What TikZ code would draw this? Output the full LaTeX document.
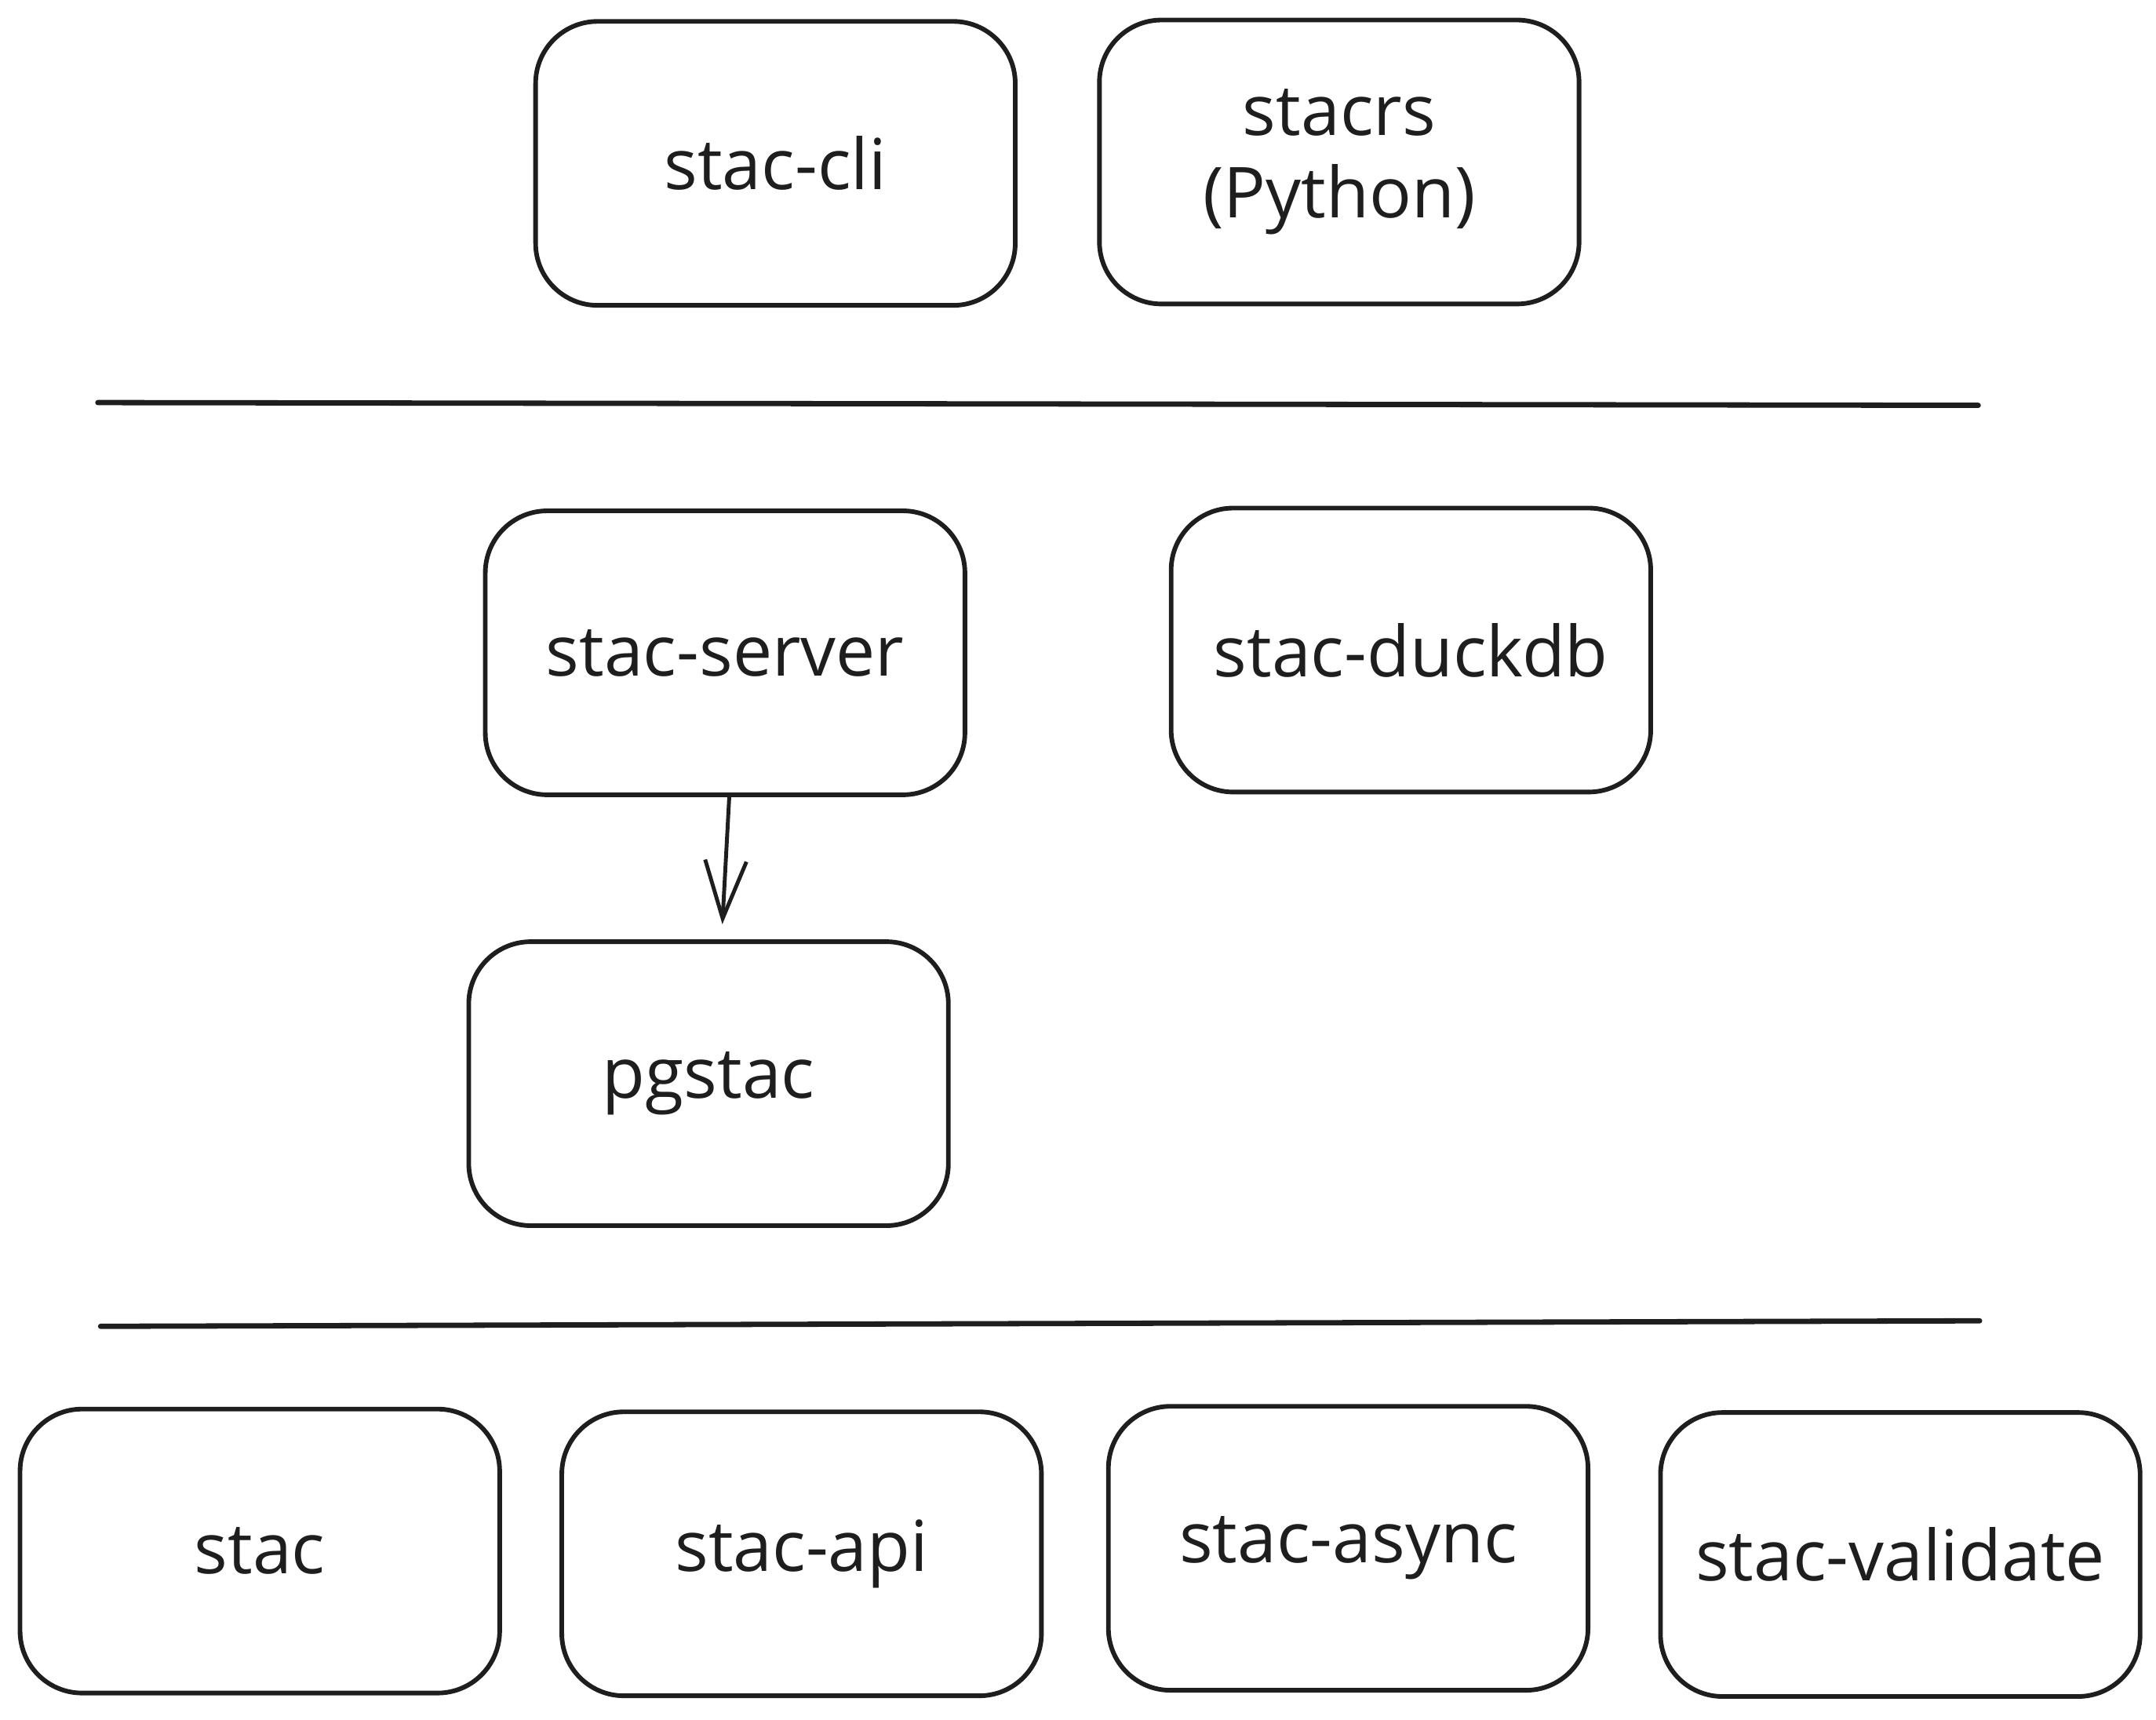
\documentclass[tikz,border=0pt]{standalone}
\usepackage{fontspec}
\setmainfont{Open Sans}
\usetikzlibrary{arrows.meta}
\definecolor{ink}{HTML}{1E1E1E}
\begin{document}
\begin{tikzpicture}[x=0.02cm,y=-0.02cm,
  box/.style={draw=ink,line width=1.9pt,rounded corners=0.9cm,minimum width=6.96cm,minimum height=4.12cm,inner sep=0pt,align=center,text=ink,font=\fontsize{29}{34}\selectfont},
  sep/.style={draw=ink,line width=2.2pt,line cap=round},
  arr/.style={draw=ink,line width=1.6pt,-{Straight Barb[length=0.84cm,width=0.6cm,line width=1.6pt]}}]
\useasboundingbox (0,0) rectangle (1564,1247);
\node[box] (cli) at (562.5,118.5) {stac-cli};
\node[box] (stacrs) at (971.5,117.5) {stacrs\\(Python)};
\coordinate (l1a) at (71,292);
\coordinate (l1b) at (1435,294);
\draw[sep] (l1a) -- (l1b);
\node[box] (server) at (526,473.5) {stac-server};
\node[box] (duckdb) at (1023.5,471.5) {stac-duckdb};
\node[box] (pgstac) at (514,786) {pgstac};
\draw[arr] ([xshift=0.06cm]server.south) -- ([xshift=0.2cm,yshift=0.22cm]pgstac.north);
\coordinate (l2a) at (73,962);
\coordinate (l2b) at (1436,958);
\draw[sep] (l2a) -- (l2b);
\node[box] (stac) at (188.5,1125) {stac};
\node[box] (api) at (581.5,1127) {stac-api};
\node[box] (async) at (978,1123) {stac-async};
\node[box] (validate) at (1378.5,1127.5) {stac-validate};
\end{tikzpicture}
\end{document}
